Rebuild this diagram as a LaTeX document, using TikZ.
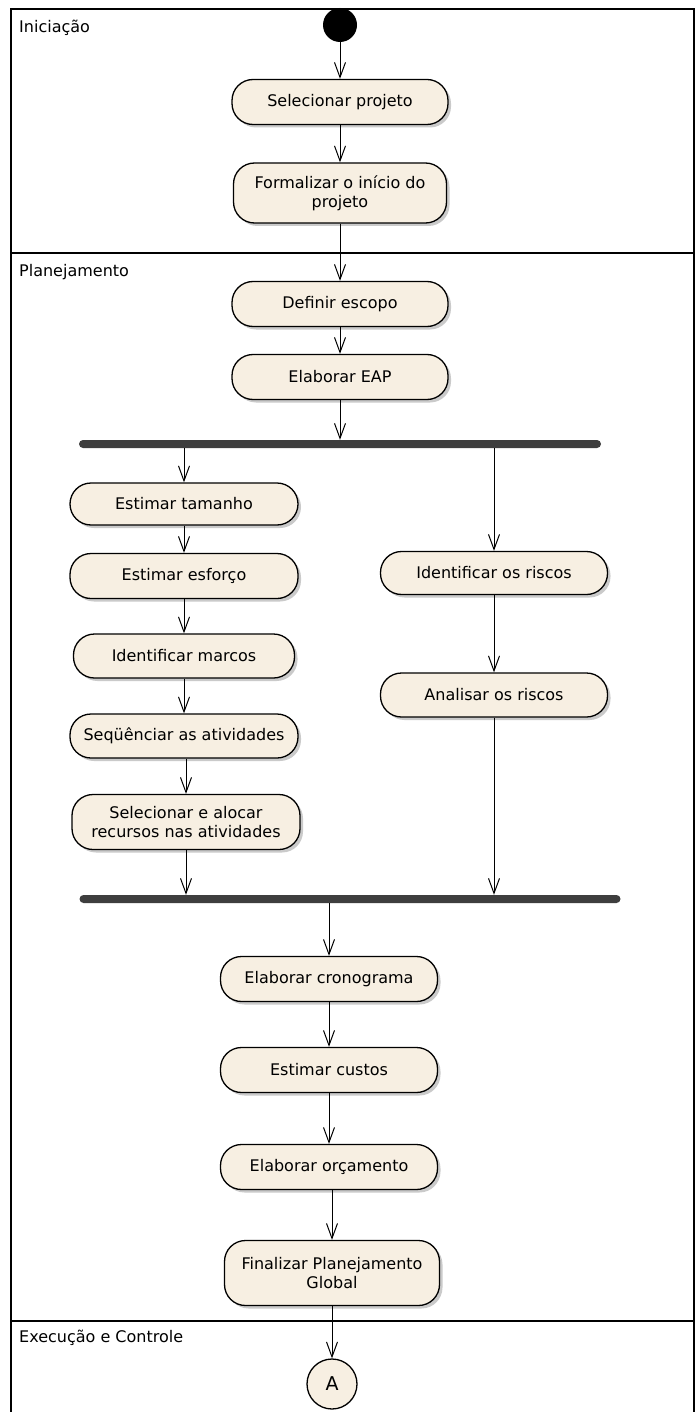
\documentclass[tikz,border=0pt]{standalone}
\usepackage{fontspec}
\setmainfont{DejaVu Sans}
\usetikzlibrary{arrows.meta,shadows,positioning}
\definecolor{boxfill}{RGB}{247,239,226}
\definecolor{bardark}{RGB}{62,62,62}
\begin{document}
\begin{tikzpicture}[x=1pt,y=-1pt,
  every node/.style={font=\fontsize{16}{19}\selectfont},
  act/.style={draw=black, line width=1.3pt, fill=boxfill, rounded corners=21pt,
     inner sep=0pt, align=center, minimum width=216pt, minimum height=45pt,
     drop shadow={shadow xshift=3pt, shadow yshift=-3pt, fill=black!35, opacity=0.6}},
  forkbar/.style={fill=bardark, draw=none, rounded corners=4pt, inner sep=0pt, minimum height=8pt},
  flow/.style={line width=1pt, -{Straight Barb[length=15pt,width=11pt,line width=1pt]}},
  lane/.style={line width=1.3pt},
  lanelabel/.style={anchor=west, inner sep=0pt}
]
\useasboundingbox (0,0) rectangle (696,1412);
% frame and lanes
\draw[lane] (11,1414) -- (11,9) -- (694,9) -- (694,1414);
\draw[lane] (11,253) -- (694,253);
\draw[lane] (11,1321) -- (694,1321);
\node[lanelabel] (l1) at (19,28) {Iniciação};
\node[lanelabel] (l2) at (19,272) {Planejamento};
\node[lanelabel] (l3) at (19,1338) {Execução e Controle};

% nodes
\node[circle, fill=black, minimum size=34pt, inner sep=0pt] (init) at (340,25) {};
\node[act] (sel) at (340,102) {Selecionar projeto};
\node[act, minimum width=213pt, minimum height=60pt] (form) at (340,193) {Formalizar o início do\\projeto};
\node[act] (def) at (340,304) {Definir escopo};
\node[act] (eap) at (340,377) {Elaborar EAP};
\node[forkbar, minimum width=522pt] (fork) at (340,444) {};
\node[act, minimum width=228pt, minimum height=42pt] (tam) at (184,504) {Estimar tamanho};
\node[act, minimum width=228pt] (esf) at (184,576) {Estimar esforço};
\node[act, minimum width=221pt, minimum height=44pt] (mar) at (184,656) {Identificar marcos};
\node[act, minimum width=228pt, minimum height=44pt] (seq) at (184,736) {Seqüênciar as atividades};
\node[act, minimum width=228pt, minimum height=55pt] (rec) at (186,822) {Selecionar e alocar\\recursos nas atividades};
\node[act, minimum width=227pt, minimum height=43pt] (idr) at (494,573) {Identificar os riscos};
\node[act, minimum width=227pt, minimum height=44pt] (ana) at (494,695) {Analisar os riscos};
\node[forkbar, minimum width=541pt] (join) at (350,899) {};
\node[act, minimum width=217pt] (cro) at (329,979) {Elaborar cronograma};
\node[act, minimum width=217pt] (cus) at (329,1070) {Estimar custos};
\node[act, minimum width=217pt] (orc) at (329,1167) {Elaborar orçamento};
\node[act, minimum width=215pt, minimum height=65pt] (fin) at (332,1273) {Finalizar Planejamento\\Global};
\node[circle, draw=black, line width=1.3pt, fill=boxfill, minimum size=50pt, inner sep=0pt,
      font=\fontsize{19}{19}\selectfont] (A) at (332,1384) {A};

% connectors
\draw[flow] (init) -- (sel);
\draw[flow] (sel) -- (form);
\draw[flow] (form) -- (def);
\draw[flow] (def) -- (eap);
\draw[flow] (eap) -- (fork);
\draw[flow] (fork.south -| tam.north) -- (tam.north);
\draw[flow] (tam) -- (esf);
\draw[flow] (esf) -- (mar);
\draw[flow] (mar) -- (seq);
\draw[flow] (seq.south -| rec.north) -- (rec.north);
\draw[flow] (fork.south -| idr.north) -- (idr.north);
\draw[flow] (idr) -- (ana);
\draw[flow] (rec.south) -- (rec.south |- join.north);
\draw[flow] (ana.south) -- (ana.south |- join.north);
\draw[flow] (join.south -| cro.north) -- (cro.north);
\draw[flow] (cro) -- (cus);
\draw[flow] (cus) -- (orc);
\draw[flow] (orc.south -| fin.north) -- (fin.north);
\draw[flow] (fin) -- (A);
\end{tikzpicture}
\end{document}
